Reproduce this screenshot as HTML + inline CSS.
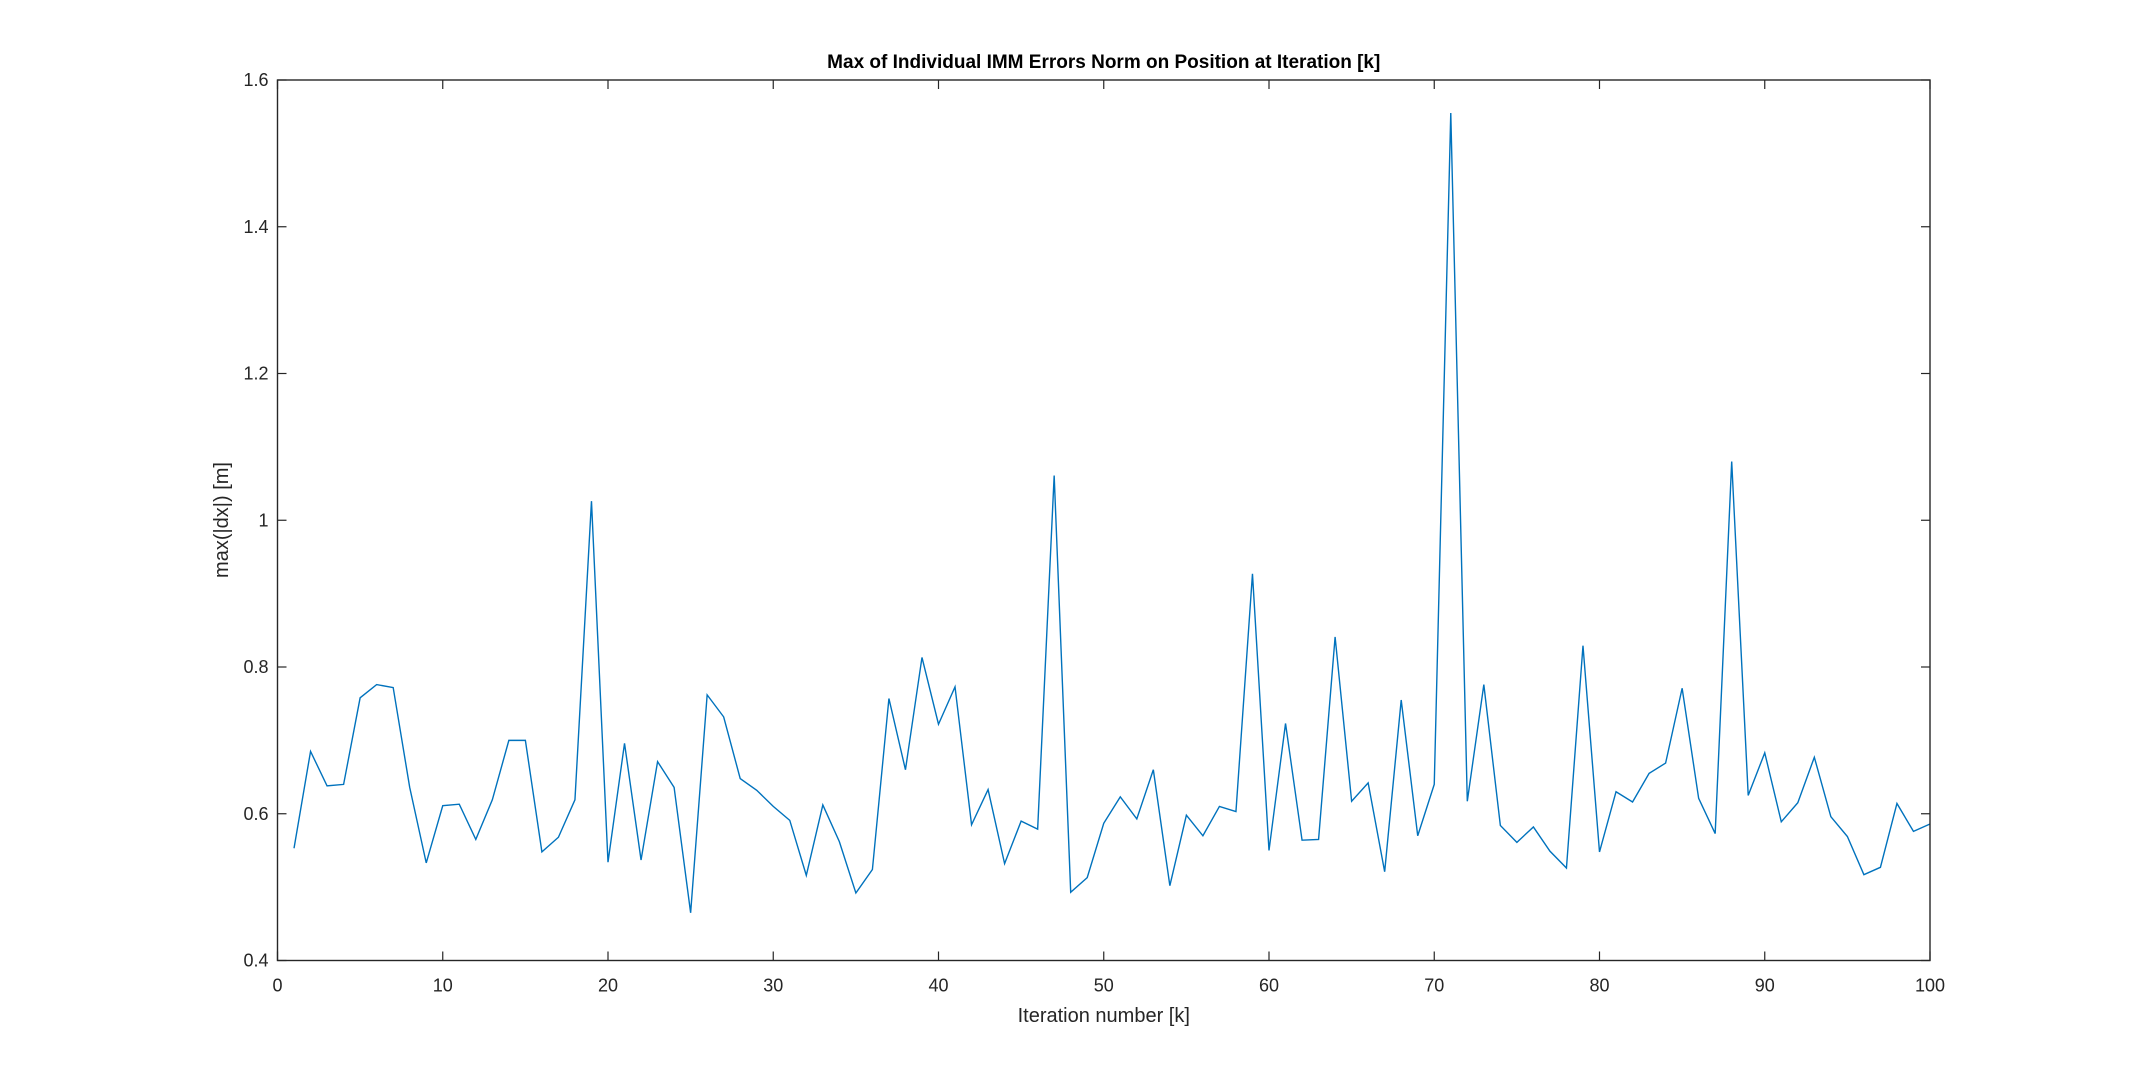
<!DOCTYPE html>
<html><head><meta charset="utf-8"><style>
html,body{margin:0;padding:0;background:#fff;}
svg{display:block;font-family:"Liberation Sans",Arial,sans-serif;}
</style></head><body>
<svg id="chart" width="2134" height="1080">
<rect x="0" y="0" width="2134" height="1080" fill="#fff"/>
<rect x="277.5" y="80" width="1652.5" height="880.5" fill="#fff"/>
<g id="grid"></g>
<path id="series" fill="none" stroke="#0072BD" stroke-width="1.4"/>
<rect x="277.5" y="80" width="1652.5" height="880.5" fill="none" stroke="#262626" stroke-width="1.4"/>
<text x="1103.75" y="68" text-anchor="middle" font-size="19" font-weight="bold" fill="#000">Max of Individual IMM Errors Norm on Position at Iteration [k]</text>
<text x="1103.75" y="1022" text-anchor="middle" font-size="20" fill="#262626">Iteration number [k]</text>
<text transform="translate(228,520) rotate(-90)" text-anchor="middle" font-size="20" fill="#262626">max(|dx|) [m]</text>
</svg>
<script>
const xTicks = [0,10,20,30,40,50,60,70,80,90,100];
const yTicks = [0.4,0.6,0.8,1.0,1.2,1.4,1.6];
const yTickLabels = ["0.4","0.6","0.8","1","1.2","1.4","1.6"];
const iterations = Array.from({length:100},(_,i)=>i+1);
const errorValues = [0.553,0.685,0.638,0.640,0.758,0.776,0.772,0.636,0.533,0.611,
0.613,0.565,0.619,0.700,0.700,0.548,0.568,0.619,1.026,0.534,
0.696,0.537,0.671,0.636,0.465,0.762,0.732,0.648,0.632,0.610,
0.591,0.516,0.612,0.562,0.492,0.524,0.757,0.660,0.813,0.722,
0.773,0.585,0.633,0.532,0.590,0.579,1.061,0.493,0.513,0.587,
0.623,0.593,0.660,0.502,0.598,0.570,0.610,0.603,0.927,0.550,
0.723,0.564,0.565,0.841,0.617,0.642,0.521,0.755,0.570,0.640,
1.555,0.617,0.776,0.584,0.561,0.582,0.549,0.526,0.829,0.548,
0.630,0.616,0.655,0.669,0.771,0.621,0.573,1.080,0.625,0.683,
0.589,0.615,0.677,0.596,0.569,0.517,0.527,0.614,0.576,0.586];
const L=277.5,R=1930,T=80,B=960.5;
const xs=v=>L+(v-0)/(100-0)*(R-L);
const ys=v=>B-(v-0.4)/(1.6-0.4)*(B-T);
const NS="http://www.w3.org/2000/svg";
const g=document.getElementById('grid');
function mk(tag,attrs){const e=document.createElementNS(NS,tag);for(const k in attrs)e.setAttribute(k,attrs[k]);return e;}
xTicks.forEach(t=>{
  const x=xs(t);
  const a=mk('line',{x1:x,x2:x,y1:B,y2:B-9,stroke:'#262626','stroke-width':1.2});
  
  
  g.appendChild(a);
  const b=mk('line',{x1:x,x2:x,y1:T,y2:T+9,stroke:'#262626','stroke-width':1.2});
  
  
  g.appendChild(b);
  const tx=mk('text',{x:x,y:B+31,'text-anchor':'middle','font-size':18,fill:'#262626'});
  tx.textContent=String(t);
  
  
  g.appendChild(tx);
});
yTicks.forEach((t,i)=>{
  const y=ys(t);
  const a=mk('line',{x1:L,x2:L+9,y1:y,y2:y,stroke:'#262626','stroke-width':1.2});
  
  
  g.appendChild(a);
  const b=mk('line',{x1:R,x2:R-9,y1:y,y2:y,stroke:'#262626','stroke-width':1.2});
  
  
  g.appendChild(b);
  const tx=mk('text',{x:L-9,y:y+6,'text-anchor':'end','font-size':18,fill:'#262626'});
  tx.textContent=yTickLabels[i];
  
  
  g.appendChild(tx);
});
document.getElementById('series').setAttribute('d',iterations.map((k,i)=>(i?'L':'M')+xs(k).toFixed(2)+','+ys(errorValues[i]).toFixed(2)).join(' '));
</script>
</body></html>
